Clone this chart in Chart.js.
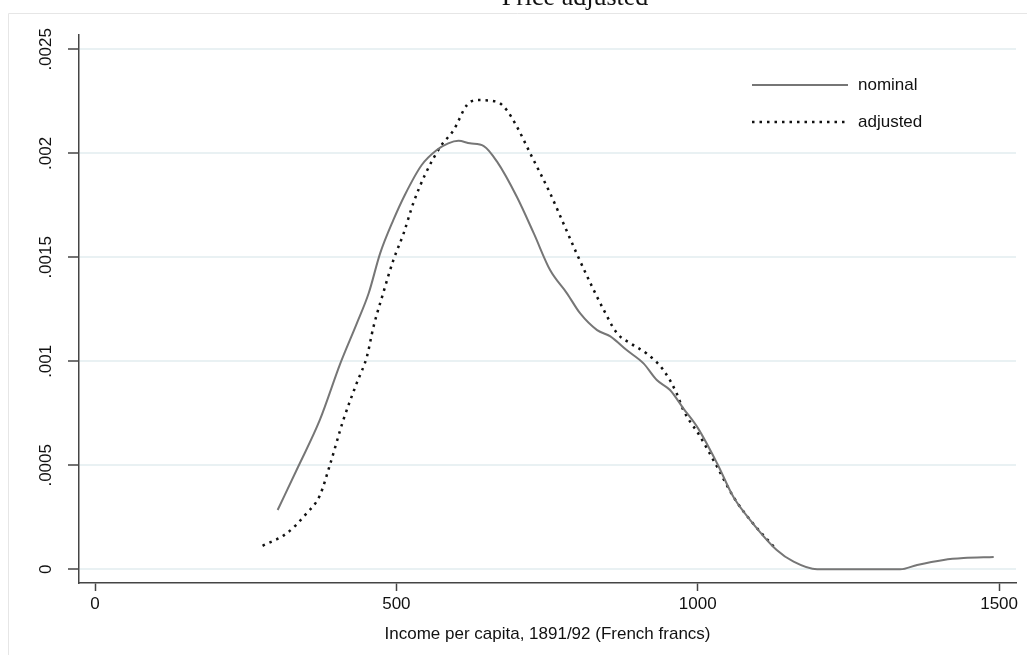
<!DOCTYPE html>
<html>
<head>
<meta charset="utf-8">
<script src="https://cdn.jsdelivr.net/npm/chart.js@4.4.1/dist/chart.umd.min.js"></script>
<style>
  html, body { margin: 0; padding: 0; background: #fff; overflow: hidden; }
  #wrap { position: relative; width: 1027px; height: 655px; overflow: hidden; }
  #chart { position: absolute; left: 0; top: 0; }
  #title { position: absolute; left: 0; width: 1150px; top: -16px; text-align: center;
           font: 26px "Liberation Serif", "Times New Roman", serif; line-height: 26px; color: #111; }
</style>
</head>
<body>
<div id="wrap">
  <canvas id="chart" width="1027" height="655"></canvas>
  <div id="title">Price adjusted</div>
</div>
<script>
// kernel density
const nominalX = [303, 337, 373, 407, 434, 454, 473, 495, 514, 542, 567, 586, 603, 622, 645, 667,
                  700, 728, 755, 783, 805, 833, 855, 882, 910, 932, 954, 976, 1000, 1032, 1059,
                  1087, 1131, 1159, 1198, 1336, 1364, 1408, 1441, 1491];
const nominalY = [.000285, .000493, .000718, .00099, .00118, .001327, .001519, .00168, .0018, .001944,
                  .002016, .002048, .00206, .002048, .002035, .00196, .00179, .001615, .001439, .001327,
                  .00123, .00115, .00112, .001054, .00099, .00091, .000862, .000774, .00068, .00051,
                  .000349, .000237, .000093, .000037, 0, 0, .000021, .000045, .000054, .000059];

const adjustedX = [278, 318, 351, 373, 390, 412, 434, 451, 462, 478, 495, 512, 528, 548, 573, 595,
                   617, 633, 667, 683, 700, 722, 755, 777, 799, 822, 844, 866, 888, 915, 943, 965,
                   976, 1004, 1032, 1059, 1087, 1131];
const adjustedY = [.000113, .000173, .000269, .000355, .000505, .000718, .000894, .001022, .001166,
                   .001327, .001487, .001615, .00176, .0019, .002032, .002112, .002232, .002256,
                   .002248, .002208, .002128, .002, .001808, .001664, .001519, .001375, .001247,
                   .001135, .001087, .001038, .000958, .000846, .000766, .000638, .000493, .000349,
                   .000237, .000093];

const xTicks = [0, 500, 1000, 1500];
const xTickLabels = ['0', '500', '1000', '1500'];
const yTicks = [0, 0.0005, 0.001, 0.0015, 0.002, 0.0025];
const yTickLabels = ['0', '.0005', '.001', '.0015', '.002', '.0025'];

const FONT = { family: '"Liberation Sans", Arial, Helvetica, sans-serif', size: 17 };
const TEXT = '#111';
const AXIS = '#444';

function toPoints(xs, ys) {
    return xs.map((x, i) => ({ x: x, y: ys[i] }));
}

// light outer frame of the graph region
const framePlugin = {
    id: 'frame',
    beforeDraw(chart) {
        const ctx = chart.ctx;
        ctx.save();
        ctx.strokeStyle = '#e6e6e6';
        ctx.lineWidth = 1;
        ctx.beginPath();
        ctx.moveTo(8.5, 655);
        ctx.lineTo(8.5, 13.5);
        ctx.lineTo(1027, 13.5);
        ctx.stroke();
        ctx.restore();
    }
};

// stata-like legend inside the plot
const legendPlugin = {
    id: 'insideLegend',
    afterDraw(chart) {
        const ctx = chart.ctx;
        const rows = [85, 122];
        ctx.save();
        chart.data.datasets.forEach((ds, i) => {
            const y = rows[i];
            ctx.strokeStyle = ds.borderColor;
            ctx.lineWidth = ds.borderWidth;
            ctx.setLineDash(ds.borderDash || []);
            ctx.beginPath();
            ctx.moveTo(752, y);
            ctx.lineTo(848, y);
            ctx.stroke();
            ctx.setLineDash([]);
            ctx.fillStyle = TEXT;
            ctx.font = FONT.size + 'px ' + FONT.family;
            ctx.textBaseline = 'middle';
            ctx.textAlign = 'left';
            ctx.fillText(ds.label, 858, y);
        });
        ctx.restore();
    }
};

new Chart(document.getElementById('chart'), {
    type: 'line',
    data: {
        datasets: [
            {
                label: 'nominal',
                data: toPoints(nominalX, nominalY),
                borderColor: '#767676',
                borderWidth: 2,
                pointRadius: 0,
                fill: false,
                cubicInterpolationMode: 'monotone'
            },
            {
                label: 'adjusted',
                data: toPoints(adjustedX, adjustedY),
                borderColor: '#111',
                borderWidth: 2.5,
                borderDash: [2.5, 5],
                pointRadius: 0,
                fill: false,
                cubicInterpolationMode: 'monotone'
            }
        ]
    },
    options: {
        responsive: false,
        animation: false,
        devicePixelRatio: 1,
        layout: { padding: { left: 0, top: 35, right: 11, bottom: 0 } },
        plugins: {
            legend: { display: false },
            tooltip: { enabled: false }
        },
        scales: {
            x: {
                type: 'linear',
                min: -26.6,
                max: 1528,
                afterBuildTicks: s => { s.ticks = xTicks.map(v => ({ value: v })); },
                afterFit: s => { s.height = 72; },
                ticks: {
                    font: FONT, color: TEXT, padding: 3, maxRotation: 0,
                    callback: (v, i) => xTickLabels[i]
                },
                grid: { drawOnChartArea: false, tickLength: 8, tickColor: AXIS, tickWidth: 1.5 },
                border: { color: AXIS, width: 1.5 },
                title: {
                    display: true,
                    text: 'Income per capita, 1891/92 (French francs)',
                    font: FONT, color: TEXT,
                    padding: { top: 0, bottom: 10 }
                }
            },
            y: {
                type: 'linear',
                min: -0.0000659,
                max: 0.002569,
                afterBuildTicks: s => { s.ticks = yTicks.map(v => ({ value: v })); },
                afterFit: s => { s.width = 79; },
                ticks: {
                    font: FONT, color: TEXT, padding: 0,
                    minRotation: 90, maxRotation: 90, crossAlign: 'center',
                    callback: (v, i) => yTickLabels[i]
                },
                grid: { color: '#e9f1f3', lineWidth: 2, tickLength: 11, tickColor: AXIS, tickWidth: 1.5 },
                border: { color: AXIS, width: 1.5 }
            }
        }
    },
    plugins: [framePlugin, legendPlugin]
});
</script>
</body>
</html>
